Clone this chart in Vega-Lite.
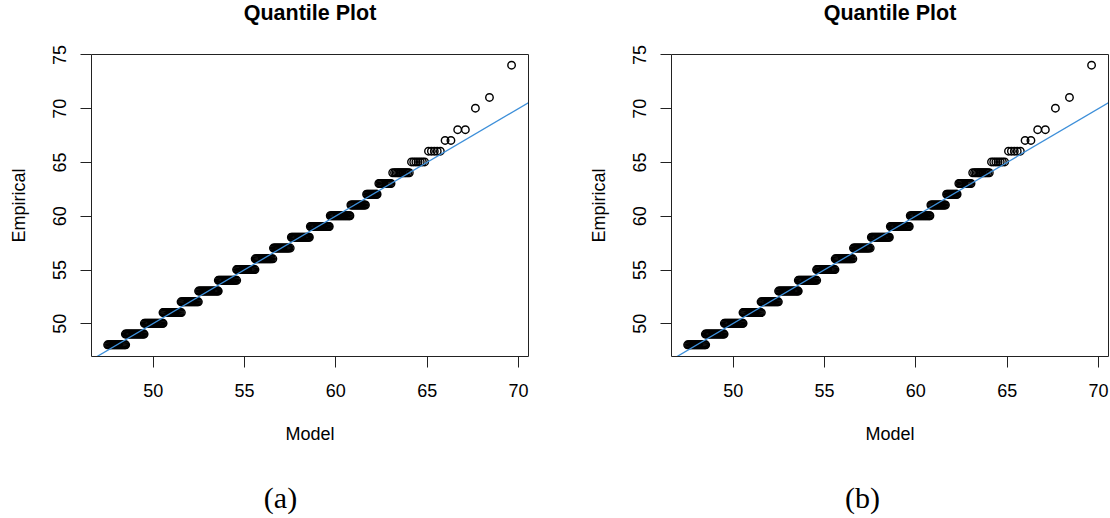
{
  "$schema": "https://vega.github.io/schema/vega-lite/v6.json",
  "background": "white",
  "padding": {"left": 9, "top": 1, "right": 0, "bottom": 0},
  "bounds": "flush",
  "spacing": 143,
  "config": {
    "view": {"stroke": "#222222", "strokeWidth": 1},
    "font": "Liberation Sans",
    "axis": {"grid": false, "domain": false, "tickColor": "#222222", "tickSize": 11, "tickWidth": 1, "labelFont": "Liberation Sans", "labelFontSize": 18, "labelColor": "black", "titleFont": "Liberation Sans", "titleFontSize": 18, "titleFontWeight": "normal", "titleColor": "black", "labelFlush": false, "labelOverlap": false}
  },
  "datasets": {
    "pts": [
      {"x":47.53,"y":48},{"x":47.58,"y":48},{"x":47.63,"y":48},{"x":47.68,"y":48},{"x":47.73,"y":48},{"x":47.78,"y":48},{"x":47.83,"y":48},{"x":47.88,"y":48},{"x":47.93,"y":48},{"x":47.98,"y":48},{"x":48.03,"y":48},{"x":48.08,"y":48},{"x":48.13,"y":48},{"x":48.18,"y":48},{"x":48.23,"y":48},{"x":48.28,"y":48},{"x":48.33,"y":48},{"x":48.38,"y":48},{"x":48.43,"y":48},{"x":48.48,"y":48},{"x":48.52,"y":48},
      {"x":48.50,"y":49},{"x":48.55,"y":49},{"x":48.60,"y":49},{"x":48.65,"y":49},{"x":48.70,"y":49},{"x":48.75,"y":49},{"x":48.80,"y":49},{"x":48.85,"y":49},{"x":48.90,"y":49},{"x":48.95,"y":49},{"x":49.00,"y":49},{"x":49.05,"y":49},{"x":49.10,"y":49},{"x":49.15,"y":49},{"x":49.20,"y":49},{"x":49.25,"y":49},{"x":49.30,"y":49},{"x":49.35,"y":49},{"x":49.40,"y":49},{"x":49.45,"y":49},{"x":49.50,"y":49},{"x":49.53,"y":49},
      {"x":49.54,"y":50},{"x":49.59,"y":50},{"x":49.64,"y":50},{"x":49.69,"y":50},{"x":49.74,"y":50},{"x":49.79,"y":50},{"x":49.84,"y":50},{"x":49.89,"y":50},{"x":49.94,"y":50},{"x":49.99,"y":50},{"x":50.04,"y":50},{"x":50.09,"y":50},{"x":50.14,"y":50},{"x":50.19,"y":50},{"x":50.24,"y":50},{"x":50.29,"y":50},{"x":50.34,"y":50},{"x":50.39,"y":50},{"x":50.44,"y":50},{"x":50.49,"y":50},{"x":50.54,"y":50},{"x":50.57,"y":50},
      {"x":50.56,"y":51},{"x":50.61,"y":51},{"x":50.66,"y":51},{"x":50.71,"y":51},{"x":50.76,"y":51},{"x":50.81,"y":51},{"x":50.86,"y":51},{"x":50.91,"y":51},{"x":50.96,"y":51},{"x":51.01,"y":51},{"x":51.06,"y":51},{"x":51.11,"y":51},{"x":51.16,"y":51},{"x":51.21,"y":51},{"x":51.26,"y":51},{"x":51.31,"y":51},{"x":51.36,"y":51},{"x":51.41,"y":51},{"x":51.46,"y":51},{"x":51.51,"y":51},{"x":51.57,"y":51},
      {"x":51.55,"y":52},{"x":51.60,"y":52},{"x":51.65,"y":52},{"x":51.70,"y":52},{"x":51.75,"y":52},{"x":51.80,"y":52},{"x":51.85,"y":52},{"x":51.90,"y":52},{"x":51.95,"y":52},{"x":52.00,"y":52},{"x":52.05,"y":52},{"x":52.10,"y":52},{"x":52.15,"y":52},{"x":52.20,"y":52},{"x":52.25,"y":52},{"x":52.30,"y":52},{"x":52.35,"y":52},{"x":52.40,"y":52},{"x":52.45,"y":52},{"x":52.50,"y":52},
      {"x":52.51,"y":53},{"x":52.56,"y":53},{"x":52.61,"y":53},{"x":52.66,"y":53},{"x":52.71,"y":53},{"x":52.76,"y":53},{"x":52.81,"y":53},{"x":52.86,"y":53},{"x":52.91,"y":53},{"x":52.96,"y":53},{"x":53.01,"y":53},{"x":53.06,"y":53},{"x":53.11,"y":53},{"x":53.16,"y":53},{"x":53.21,"y":53},{"x":53.26,"y":53},{"x":53.31,"y":53},{"x":53.36,"y":53},{"x":53.41,"y":53},{"x":53.46,"y":53},{"x":53.51,"y":53},{"x":53.56,"y":53},{"x":53.59,"y":53},
      {"x":53.59,"y":54},{"x":53.64,"y":54},{"x":53.69,"y":54},{"x":53.74,"y":54},{"x":53.79,"y":54},{"x":53.84,"y":54},{"x":53.89,"y":54},{"x":53.94,"y":54},{"x":53.99,"y":54},{"x":54.04,"y":54},{"x":54.09,"y":54},{"x":54.14,"y":54},{"x":54.19,"y":54},{"x":54.24,"y":54},{"x":54.29,"y":54},{"x":54.34,"y":54},{"x":54.39,"y":54},{"x":54.44,"y":54},{"x":54.49,"y":54},{"x":54.54,"y":54},{"x":54.60,"y":54},
      {"x":54.59,"y":55},{"x":54.64,"y":55},{"x":54.69,"y":55},{"x":54.74,"y":55},{"x":54.79,"y":55},{"x":54.84,"y":55},{"x":54.89,"y":55},{"x":54.94,"y":55},{"x":54.99,"y":55},{"x":55.04,"y":55},{"x":55.09,"y":55},{"x":55.14,"y":55},{"x":55.19,"y":55},{"x":55.24,"y":55},{"x":55.29,"y":55},{"x":55.34,"y":55},{"x":55.39,"y":55},{"x":55.44,"y":55},{"x":55.49,"y":55},{"x":55.54,"y":55},{"x":55.60,"y":55},
      {"x":55.61,"y":56},{"x":55.66,"y":56},{"x":55.71,"y":56},{"x":55.76,"y":56},{"x":55.81,"y":56},{"x":55.86,"y":56},{"x":55.91,"y":56},{"x":55.96,"y":56},{"x":56.01,"y":56},{"x":56.06,"y":56},{"x":56.11,"y":56},{"x":56.16,"y":56},{"x":56.21,"y":56},{"x":56.26,"y":56},{"x":56.31,"y":56},{"x":56.36,"y":56},{"x":56.41,"y":56},{"x":56.46,"y":56},{"x":56.51,"y":56},{"x":56.58,"y":56},
      {"x":56.61,"y":57},{"x":56.66,"y":57},{"x":56.71,"y":57},{"x":56.76,"y":57},{"x":56.81,"y":57},{"x":56.86,"y":57},{"x":56.91,"y":57},{"x":56.96,"y":57},{"x":57.01,"y":57},{"x":57.06,"y":57},{"x":57.11,"y":57},{"x":57.16,"y":57},{"x":57.21,"y":57},{"x":57.26,"y":57},{"x":57.31,"y":57},{"x":57.36,"y":57},{"x":57.41,"y":57},{"x":57.46,"y":57},{"x":57.53,"y":57},
      {"x":57.59,"y":58},{"x":57.64,"y":58},{"x":57.69,"y":58},{"x":57.74,"y":58},{"x":57.79,"y":58},{"x":57.84,"y":58},{"x":57.89,"y":58},{"x":57.94,"y":58},{"x":57.99,"y":58},{"x":58.04,"y":58},{"x":58.09,"y":58},{"x":58.14,"y":58},{"x":58.19,"y":58},{"x":58.24,"y":58},{"x":58.29,"y":58},{"x":58.34,"y":58},{"x":58.39,"y":58},{"x":58.44,"y":58},{"x":58.49,"y":58},{"x":58.54,"y":58},{"x":58.58,"y":58},
      {"x":58.63,"y":59},{"x":58.68,"y":59},{"x":58.73,"y":59},{"x":58.78,"y":59},{"x":58.83,"y":59},{"x":58.88,"y":59},{"x":58.93,"y":59},{"x":58.98,"y":59},{"x":59.03,"y":59},{"x":59.08,"y":59},{"x":59.13,"y":59},{"x":59.18,"y":59},{"x":59.23,"y":59},{"x":59.28,"y":59},{"x":59.33,"y":59},{"x":59.38,"y":59},{"x":59.43,"y":59},{"x":59.48,"y":59},{"x":59.53,"y":59},{"x":59.58,"y":59},{"x":59.63,"y":59},{"x":59.67,"y":59},
      {"x":59.72,"y":60},{"x":59.77,"y":60},{"x":59.82,"y":60},{"x":59.87,"y":60},{"x":59.92,"y":60},{"x":59.97,"y":60},{"x":60.02,"y":60},{"x":60.07,"y":60},{"x":60.12,"y":60},{"x":60.17,"y":60},{"x":60.22,"y":60},{"x":60.27,"y":60},{"x":60.32,"y":60},{"x":60.37,"y":60},{"x":60.42,"y":60},{"x":60.47,"y":60},{"x":60.52,"y":60},{"x":60.57,"y":60},{"x":60.62,"y":60},{"x":60.67,"y":60},{"x":60.72,"y":60},{"x":60.77,"y":60},{"x":60.80,"y":60},
      {"x":60.85,"y":61},{"x":60.90,"y":61},{"x":60.95,"y":61},{"x":61.00,"y":61},{"x":61.05,"y":61},{"x":61.10,"y":61},{"x":61.15,"y":61},{"x":61.20,"y":61},{"x":61.25,"y":61},{"x":61.30,"y":61},{"x":61.35,"y":61},{"x":61.40,"y":61},{"x":61.45,"y":61},{"x":61.50,"y":61},{"x":61.55,"y":61},{"x":61.60,"y":61},{"x":61.65,"y":61},
      {"x":61.71,"y":62},{"x":61.76,"y":62},{"x":61.81,"y":62},{"x":61.86,"y":62},{"x":61.91,"y":62},{"x":61.96,"y":62},{"x":62.01,"y":62},{"x":62.06,"y":62},{"x":62.11,"y":62},{"x":62.16,"y":62},{"x":62.21,"y":62},{"x":62.26,"y":62},{"x":62.29,"y":62},
      {"x":62.38,"y":63},{"x":62.44,"y":63},{"x":62.50,"y":63},{"x":62.56,"y":63},{"x":62.62,"y":63},{"x":62.68,"y":63},{"x":62.74,"y":63},{"x":62.80,"y":63},{"x":62.86,"y":63},{"x":62.92,"y":63},{"x":62.98,"y":63},{"x":63.05,"y":63},
      {"x":63.14,"y":64},{"x":63.24,"y":64},{"x":63.32,"y":64},{"x":63.40,"y":64},{"x":63.47,"y":64},{"x":63.54,"y":64},{"x":63.61,"y":64},{"x":63.68,"y":64},{"x":63.75,"y":64},{"x":63.82,"y":64},{"x":63.89,"y":64},{"x":63.97,"y":64},{"x":64.05,"y":64},
      {"x":64.17,"y":65},{"x":64.29,"y":65},{"x":64.41,"y":65},{"x":64.53,"y":65},{"x":64.65,"y":65},{"x":64.77,"y":65},{"x":64.89,"y":65},
      {"x":65.10,"y":66},{"x":65.26,"y":66},{"x":65.42,"y":66},{"x":65.58,"y":66},{"x":65.75,"y":66},
      {"x":66.01,"y":67},{"x":66.33,"y":67},
      {"x":66.70,"y":68},{"x":67.12,"y":68},
      {"x":67.67,"y":70},
      {"x":68.44,"y":71},
      {"x":69.65,"y":74}
    ],
    "ref": [{"x":46,"y":45.96},{"x":71,"y":70.94}]
  },
  "hconcat": [
    {
      "width": 437, "height": 302,
      "title": {"text": "(a)", "orient": "bottom", "font": "Liberation Serif", "fontSize": 30, "fontWeight": "normal", "color": "black", "anchor": "middle", "frame": "group", "dx": -29, "offset": 41},
      "layer": [
        {
          "data": {"name": "pts"},
          "mark": {"type": "point", "shape": "circle", "filled": false, "stroke": "black", "strokeWidth": 1.4, "size": 56, "opacity": 1},
          "encoding": {
            "x": {"field": "x", "type": "quantitative", "scale": {"domain": [46.62, 70.55], "nice": false, "zero": false}, "axis": {"orient": "bottom", "title": "Model", "values": [50,55,60,65,70], "labelPadding": 15, "titlePadding": 25}},
            "y": {"field": "y", "type": "quantitative", "scale": {"domain": [46.96, 75.04], "nice": false, "zero": false}, "axis": {"title": "Empirical", "values": [50,55,60,65,70,75], "labelAngle": 270, "labelAlign": "center", "labelBaseline": "alphabetic", "labelPadding": 15, "titleAngle": 270, "titleBaseline": "alphabetic", "titlePadding": 27}}
          }
        },
        {
          "data": {"name": "ref"},
          "mark": {"type": "line", "color": "#3d8fd9", "strokeWidth": 1.3, "clip": true},
          "encoding": {
            "x": {"field": "x", "type": "quantitative", "axis": {"orient": "top", "title": "Quantile Plot", "labels": false, "ticks": false, "domain": false, "titleFontSize": 21.5, "titleFontWeight": "bold", "titleBaseline": "alphabetic", "titlePadding": 35}},
            "y": {"field": "y", "type": "quantitative"}
          }
        }
      ],
      "resolve": {"axis": {"x": "independent"}}
    },
    {
      "width": 437, "height": 302,
      "title": {"text": "(b)", "orient": "bottom", "font": "Liberation Serif", "fontSize": 30, "fontWeight": "normal", "color": "black", "anchor": "middle", "frame": "group", "dx": -27, "offset": 41},
      "layer": [
        {
          "data": {"name": "pts"},
          "mark": {"type": "point", "shape": "circle", "filled": false, "stroke": "black", "strokeWidth": 1.4, "size": 56, "opacity": 1},
          "encoding": {
            "x": {"field": "x", "type": "quantitative", "scale": {"domain": [46.62, 70.55], "nice": false, "zero": false}, "axis": {"orient": "bottom", "title": "Model", "values": [50,55,60,65,70], "labelPadding": 15, "titlePadding": 25}},
            "y": {"field": "y", "type": "quantitative", "scale": {"domain": [46.96, 75.04], "nice": false, "zero": false}, "axis": {"title": "Empirical", "values": [50,55,60,65,70,75], "labelAngle": 270, "labelAlign": "center", "labelBaseline": "alphabetic", "labelPadding": 15, "titleAngle": 270, "titleBaseline": "alphabetic", "titlePadding": 27}}
          }
        },
        {
          "data": {"name": "ref"},
          "mark": {"type": "line", "color": "#3d8fd9", "strokeWidth": 1.3, "clip": true},
          "encoding": {
            "x": {"field": "x", "type": "quantitative", "axis": {"orient": "top", "title": "Quantile Plot", "labels": false, "ticks": false, "domain": false, "titleFontSize": 21.5, "titleFontWeight": "bold", "titleBaseline": "alphabetic", "titlePadding": 35}},
            "y": {"field": "y", "type": "quantitative"}
          }
        }
      ],
      "resolve": {"axis": {"x": "independent"}}
    }
  ]
}
